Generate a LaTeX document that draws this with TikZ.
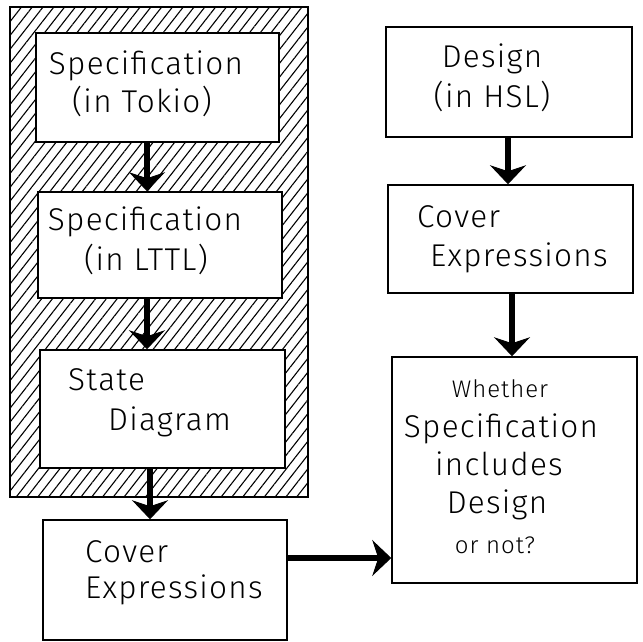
\documentclass[tikz,border=0pt]{standalone}
\usepackage{fontspec}
\setmainfont{Fira Sans}[UprightFont=* Light, LetterSpace=4]
\usetikzlibrary{arrows.meta,patterns.meta}

\tikzset{
  box/.style={draw, line width=1.5pt, fill=white, inner sep=0pt},
  zone/.style={draw, line width=1.5pt, inner sep=0pt,
    pattern={Lines[angle=52, distance=8.5pt, line width=1.1pt]}},
  flow/.style={line width=6.5pt,
    -{Stealth[length=19pt, width=36pt, inset=6pt, line width=1pt]}},
  big/.style={font=\fontsize{31.5}{38}\selectfont, inner sep=0pt},
  small/.style={font=\fontsize{24}{28}\selectfont, inner sep=0pt},
}

\begin{document}
\begin{tikzpicture}[x=1pt, y=-1pt]
\useasboundingbox (0,0) rectangle (643,642);

% hatched region holding the specification side
\node[zone, minimum width=298pt, minimum height=490pt] (spec) at (159,252) {};

% left column
\node[box, minimum width=243pt, minimum height=109pt] (b1) at (157.5,87.5) {};
\node[box, minimum width=244pt, minimum height=106pt] (b2) at (160,245) {};
\node[box, minimum width=245pt, minimum height=118pt] (b3) at (162.5,409) {};
\node[box, minimum width=244pt, minimum height=120pt] (b4) at (165,580) {};

% right column
\node[box, minimum width=246pt, minimum height=110pt] (r1) at (509,82) {};
\node[box, minimum width=245pt, minimum height=108pt] (r2) at (510.5,239) {};
\node[box, minimum width=245pt, minimum height=226pt] (r3) at (514.5,470) {};

% connectors
\draw[flow] (b1.south -| 147,0) -- (b2.north -| 147,0);
\draw[flow] (b2.south -| 147,0) -- (b3.north -| 147,0);
\draw[flow] (b3.south -| 150,0) -- (b4.north -| 150,0);
\draw[flow] (b4.east |- 0,558) -- (r3.west |- 0,558);
\draw[flow] (r1.south -| 508,0) -- (r2.north -| 508,0);
\draw[flow] (r2.south -| 512,0) -- (r3.north -| 512,0);

% labels
\node[big, anchor=base] (t1a) at (146,75) {Specification};
\node[big, anchor=base] (t1b) at (142,112) {(in Tokio)};
\node[big, anchor=base] (t2a) at (145,230) {Specification};
\node[big, anchor=base] (t2b) at (146,270) {(in LTTL)};
\node[big, anchor=base west] (t3a) at (68,390) {State};
\node[big, anchor=base west] (t3b) at (108,430) {Diagram};
\node[big, anchor=base west] (t4a) at (85,562) {Cover};
\node[big, anchor=base west] (t4b) at (85,598) {Expressions};

\node[big, anchor=base] (u1a) at (492,67) {Design};
\node[big, anchor=base] (u1b) at (492,107) {(in HSL)};
\node[big, anchor=base west] (u2a) at (417,227) {Cover};
\node[big, anchor=base west] (u2b) at (430,266) {Expressions};

\node[small, anchor=base] (u3a) at (500,397) {Whether};
\node[big, anchor=base] (u3b) at (501,437) {Specification};
\node[big, anchor=base] (u3c) at (499,475) {includes};
\node[big, anchor=base] (u3d) at (497,513) {Design};
\node[small, anchor=base] (u3e) at (495,553) {or not?};
\end{tikzpicture}
\end{document}
